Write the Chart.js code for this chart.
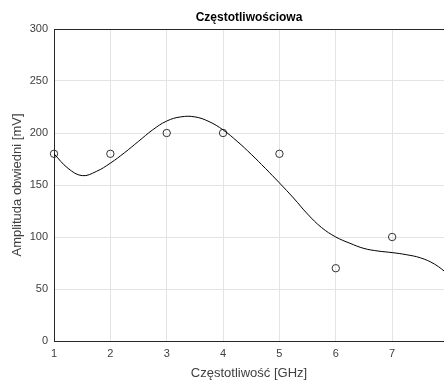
<!DOCTYPE html>
<html>
<head>
<meta charset="utf-8">
<script src="https://cdn.jsdelivr.net/npm/chart.js@4/dist/chart.umd.min.js"></script>
<style>
html,body{margin:0;padding:0;background:#fff;overflow:hidden;}
#wrap{width:444px;height:381px;position:relative;}
</style>
</head>
<body>
<div id="wrap"><canvas id="c" width="444" height="381"></canvas></div>
<script>
// Measured points
const frequencies = [1, 2, 3, 4, 5, 6, 7];
const amplitudes = [180, 180, 200, 200, 180, 70, 100];
// Smooth fitted curve
const fitX = [1.0, 1.25, 1.5, 1.75, 2.0, 2.25, 2.5, 2.75, 3.0, 3.25, 3.5, 3.75, 4.0, 4.25, 4.5, 4.75, 5.0, 5.25, 5.5, 5.75, 6.0, 6.25, 6.5, 6.75, 7.0, 7.25, 7.5, 7.75, 8.0];
const fitY = [180, 166, 159, 163, 171, 181, 192, 203, 211.5, 215.5, 215.5, 211, 203, 192, 179.5, 166, 152, 137.5, 122, 109, 100, 94, 89, 86.5, 85, 83, 80, 74, 64];
const yTicks = [0, 50, 100, 150, 200, 250, 300];
const xTicks = [1, 2, 3, 4, 5, 6, 7];

const FONT = "'Liberation Sans', Arial, Helvetica, sans-serif";
const TXT = '#404040';
const AX = '#262626';
const GRID = '#e4e4e4';

const topBorder = {
  id: 'topBorder',
  afterDatasetsDraw(chart) {
    const {ctx, chartArea} = chart;
    ctx.save();
    ctx.strokeStyle = AX;
    ctx.lineWidth = 1;
    ctx.beginPath();
    ctx.moveTo(chartArea.left, chartArea.top + 0.5);
    ctx.lineTo(chartArea.right, chartArea.top + 0.5);
    ctx.stroke();
    ctx.restore();
  }
};

new Chart(document.getElementById('c'), {
  type: 'scatter',
  data: {
    datasets: [
      {
        label: 'fit',
        data: fitX.map((x, i) => ({x: x, y: fitY[i]})),
        showLine: true,
        borderColor: '#000',
        borderWidth: 1,
        pointRadius: 0,
        tension: 0.4,
        fill: false
      },
      {
        label: 'pomiary',
        data: frequencies.map((x, i) => ({x: x, y: amplitudes[i]})),
        showLine: false,
        clip: false,
        pointRadius: 3.7,
        pointStyle: 'circle',
        borderColor: '#333',
        backgroundColor: 'rgba(255,255,255,0)',
        borderWidth: 1
      }
    ]
  },
  options: {
    responsive: false,
    animation: false,
    devicePixelRatio: 1,
    layout: {padding: 0, autoPadding: false},
    plugins: {
      legend: {display: false},
      tooltip: {enabled: false}
    },
    scales: {
      x: {
        type: 'linear',
        position: 'bottom',
        min: 1,
        max: 7.92,
        afterFit: s => { s.height = 40; s.paddingLeft = 0; s.paddingRight = 0; },
        afterBuildTicks: s => { s.ticks = xTicks.map(v => ({value: v})); },
        ticks: {color: TXT, font: {family: FONT, size: 11}, padding: 6},
        grid: {color: GRID, drawTicks: false},
        border: {color: AX, width: 1},
        title: {display: true, text: 'Częstotliwość [GHz]', color: TXT, font: {family: FONT, size: 13}, padding: {top: 0, bottom: 0}}
      },
      xTop: {
        type: 'linear',
        position: 'top',
        min: 1,
        max: 7.92,
        afterFit: s => { s.height = 29; s.paddingLeft = 0; s.paddingRight = 0; },
        ticks: {display: false},
        grid: {display: false, drawTicks: false},
        border: {display: false},
        title: {display: true, text: 'Częstotliwościowa', color: '#000', font: {family: FONT, size: 12, weight: 'bold'}, padding: {top: 10, bottom: 0}}
      },
      y: {
        min: 0,
        max: 300,
        afterFit: s => { s.width = 54; },
        afterBuildTicks: s => { s.ticks = yTicks.map(v => ({value: v})); },
        ticks: {color: TXT, font: {family: FONT, size: 11}, padding: 6},
        grid: {color: GRID, drawTicks: false},
        border: {color: AX, width: 1},
        title: {display: true, text: 'Amplituda obwiedni [mV]', color: TXT, font: {family: FONT, size: 13}, padding: {top: 10, bottom: 0}}
      }
    }
  },
  plugins: [topBorder]
});
</script>
</body>
</html>
